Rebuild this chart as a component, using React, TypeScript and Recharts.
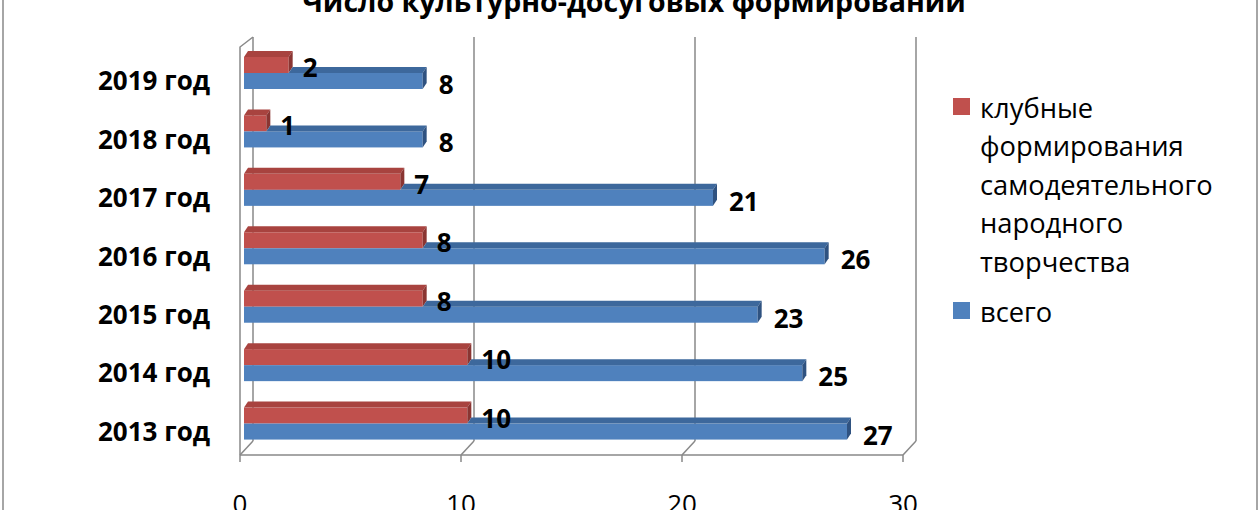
import React from "react";
import { BarChart, Bar, XAxis, YAxis, CartesianGrid, LabelList } from "recharts";

const TITLE = "Число культурно-досуговых формирований";
const YEARS = ["2019 год", "2018 год", "2017 год", "2016 год", "2015 год", "2014 год", "2013 год"];
const CLUB = [2, 1, 7, 8, 8, 10, 10];
const TOTAL = [8, 8, 21, 26, 23, 25, 27];
const SERIES_NAMES = ["клубные формирования самодеятельного народного творчества", "всего"];
const X_TICKS = [0, 10, 20, 30];

const data = YEARS.map((year, i) => ({ year, club: CLUB[i], total: TOTAL[i] }));

const FONT = "'Open Sans', 'Noto Sans', sans-serif";
const FRAME = "#898989";
const RED = { front: "#C0504D", top: "#A8433F", side: "#8A3532" };
const BLUE = { front: "#4F81BD", top: "#3D689C", side: "#2F5280" };
// bar faces
const DX = 4;
const DY = 6;
// 3d floor depth in px
const DEPTH_X = 13;
const DEPTH_Y = 14;
const PLOT_TOP = 37;

function Box({ x, y, width, height, c, cutFrom }: any) {
  const top = cutFrom == null ? x : cutFrom;
  return (
    <g>
      <rect x={x} y={y} width={width} height={height} fill={c.front} />
      {x + width > top && (
        <polygon
          points={`${top},${y} ${x + width},${y} ${x + width + DX},${y - DY} ${top + DX},${y - DY}`}
          fill={c.top}
        />
      )}
      <polygon
        points={`${x + width},${y} ${x + width + DX},${y - DY} ${x + width + DX},${y + height - DY} ${x + width},${y + height}`}
        fill={c.side}
      />
    </g>
  );
}

const RedShape = (p: any) => <Box x={p.x} y={p.y} width={p.width} height={p.height} c={RED} />;

const BlueShape = (p: any) => {
  const cut = p.x + (p.width * CLUB[p.index]) / TOTAL[p.index];
  return <Box x={p.x} y={p.y} width={p.width} height={p.height} c={BLUE} cutFrom={cut} />;
};

const labelStyle = { fontFamily: FONT, fontSize: 26, fontWeight: 700, fill: "#000" };

const TotalLabel = (p: any) => {
  const vb = p.viewBox || p;
  return (
    <text x={vb.x + vb.width + 16} y={vb.y + vb.height / 2 + 3} dominantBaseline="central" style={labelStyle}>
      {TOTAL[p.index]}
    </text>
  );
};

const ClubLabel = (p: any) => {
  const vb = p.viewBox || p;
  const end = vb.x + (vb.width * CLUB[p.index]) / TOTAL[p.index];
  return (
    <text x={end + 14} y={vb.y - vb.height / 2 + 2} dominantBaseline="central" style={labelStyle}>
      {CLUB[p.index]}
    </text>
  );
};

const YearTick = ({ x, y, payload }: any) => (
  <text x={x - 22} y={y + 7} textAnchor="end" dominantBaseline="central" style={labelStyle}>
    {payload.value}
  </text>
);

const ValueTick = ({ x, y, payload }: any) => (
  <text x={x} y={y + 49} textAnchor="middle" style={{ fontFamily: FONT, fontSize: 26, fill: "#000" }}>
    {payload.value}
  </text>
);

// floor line from the back wall down to the front axis; the first tick also draws the left wall
const FloorTick = ({ x, y, index }: any) => {
  const fx = x - DEPTH_X;
  const fy = y + DEPTH_Y;
  return (
    <g stroke={FRAME} strokeWidth={1.5} fill="none">
      <line x1={x} y1={y} x2={fx} y2={fy} />
      {index === 0 && <path d={`M${fx},${fy} L${fx},${PLOT_TOP + 10} L${x},${PLOT_TOP}`} />}
    </g>
  );
};

function Legend() {
  const lines = SERIES_NAMES[0].split(" ");
  return (
    <g style={{ fontFamily: FONT, fontSize: 27.3, fill: "#000" }}>
      <rect x={953} y={98} width={17} height={17} fill={RED.front} />
      {lines.map((t, i) => (
        <text key={t} x={980} y={107 + i * 38.5} dominantBaseline="central">
          {t}
        </text>
      ))}
      <rect x={953} y={302} width={17} height={17} fill={BLUE.front} />
      <text x={980} y={311} dominantBaseline="central">
        {SERIES_NAMES[1]}
      </text>
    </g>
  );
}

export default function App() {
  return (
    <div style={{ position: "fixed", left: 0, top: 0, width: 1260, height: 510, background: "#fff", overflow: "hidden" }}>
      <svg width={1260} height={510} style={{ position: "absolute", left: 0, top: 0 }}>
        <line x1={3} y1={0} x2={3} y2={510} stroke={FRAME} strokeWidth={1.5} />
        <line x1={1257} y1={0} x2={1257} y2={510} stroke={FRAME} strokeWidth={1.5} />
        <text x={634} y={12} textAnchor="middle" style={{ fontFamily: FONT, fontSize: 28.5, fontWeight: 700 }}>
          {TITLE}
        </text>
        <Legend />
      </svg>
      <div style={{ position: "absolute", left: 0, top: 0 }}>
        <BarChart
          width={1260}
          height={510}
          data={data}
          layout="vertical"
          margin={{ top: PLOT_TOP, right: 357, bottom: 0, left: 0 }}
          barSize={16}
          barGap={0}
        >
          {/* back wall gridlines, behind the bars */}
          <CartesianGrid
            xAxisId="back"
            yAxisId="cat"
            horizontal={false}
            syncWithTicks
            stroke={FRAME}
            strokeWidth={1.5}
          />
          <XAxis
            xAxisId="back"
            type="number"
            domain={[0, 30]}
            allowDataOverflow
            ticks={X_TICKS}
            height={DEPTH_Y}
            padding={{ left: 13, right: -13 }}
            axisLine={false}
            tickLine={false}
            tickSize={0}
            tickMargin={0}
            tick={<FloorTick />}
          />
          <XAxis
            xAxisId="front"
            type="number"
            domain={[0, 30]}
            allowDataOverflow
            ticks={X_TICKS}
            height={55}
            axisLine={{ stroke: FRAME, strokeWidth: 1.5 }}
            tickLine={{ stroke: FRAME, strokeWidth: 1.5 }}
            tickSize={7}
            tick={<ValueTick />}
          />
          <XAxis
            xAxisId="bar"
            orientation="top"
            type="number"
            domain={[0, 30]}
            allowDataOverflow
            hide
            padding={{ left: 4, right: -11 }}
          />
          <YAxis
            yAxisId="cat"
            type="category"
            dataKey="year"
            width={240}
            axisLine={false}
            tickLine={false}
            padding={{ top: 7, bottom: -12 }}
            tick={<YearTick />}
            interval={0}
          />

          <Bar
            xAxisId="bar"
            yAxisId="cat"
            dataKey="club"
            name={SERIES_NAMES[0]}
            shape={RedShape}
            isAnimationActive={false}
          />
          <Bar
            xAxisId="bar"
            yAxisId="cat"
            dataKey="total"
            name={SERIES_NAMES[1]}
            shape={BlueShape}
            isAnimationActive={false}
          >
            <LabelList dataKey="total" content={<TotalLabel />} />
            <LabelList dataKey="club" content={<ClubLabel />} />
          </Bar>
        </BarChart>
      </div>
    </div>
  );
}
